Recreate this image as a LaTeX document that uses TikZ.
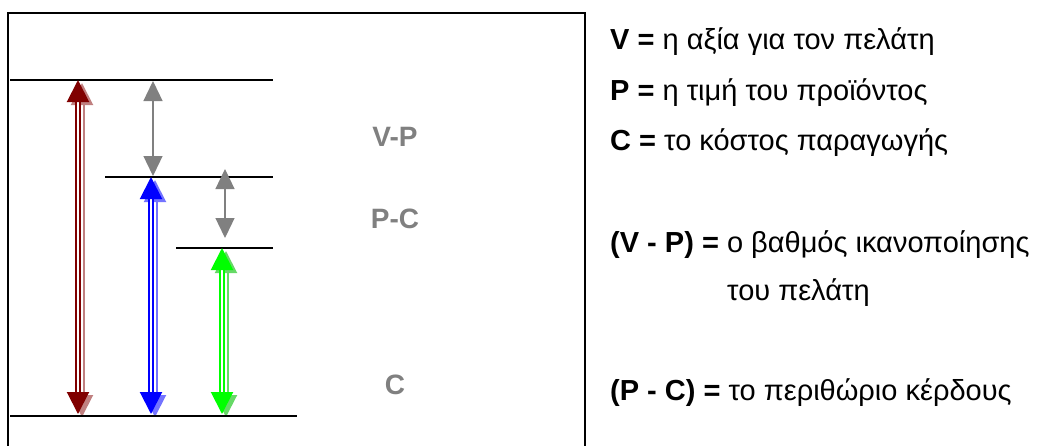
\documentclass[tikz,border=0pt]{standalone}
\usepackage{fontspec}
\setmainfont{Liberation Sans}
\usetikzlibrary{arrows.meta}
\definecolor{maroonc}{RGB}{128,0,0}
\definecolor{bluec}{RGB}{0,0,255}
\definecolor{greenc}{RGB}{0,255,0}
\definecolor{grayc}{RGB}{128,128,128}
\begin{document}
\begin{tikzpicture}[x=1pt,y=-1pt,
  hline/.style={line width=1.5pt,black},
  frame/.style={line width=2pt,black},
  bigarr/.style={double=white,double distance=1.8pt,line width=2pt,
     {Triangle[width=22pt,length=22pt]}-{Triangle[width=22pt,length=22pt]}},
  grayarr/.style={line width=1.3pt,grayc,
     {Triangle[width=19pt,length=20pt]}-{Triangle[width=19pt,length=20pt]}},
  lbl/.style={font=\fontsize{28}{32}\selectfont\bfseries,text=grayc,inner sep=0pt},
  legend/.style={font=\fontsize{29}{34}\selectfont,anchor=base west,inner sep=0pt}
]
\useasboundingbox (0,0) rectangle (1040,445);
\fill[white] (0,0) rectangle (1040,445);
% frame
\draw[frame] (8,470) -- (8,13) -- (585,13) -- (585,470);
% level lines
\coordinate (l1a) at (10,80);  \coordinate (l1b) at (273,80);
\coordinate (l2a) at (105,177); \coordinate (l2b) at (273,177);
\coordinate (l3a) at (176,248); \coordinate (l3b) at (273,248);
\coordinate (l4a) at (10,416); \coordinate (l4b) at (297,416);
% arrow ends
\coordinate (rT) at (78,80);   \coordinate (rB) at (78,414);
\coordinate (bT) at (151,177); \coordinate (bB) at (151,414);
\coordinate (gT) at (222,248); \coordinate (gB) at (222,414);
% shadows
\draw[bigarr,maroonc!50!white] ([shift={(4,3)}]rT) -- ([shift={(4,3)}]rB);
\draw[bigarr,bluec!55!white] ([shift={(4,3)}]bT) -- ([shift={(4,3)}]bB);
\draw[bigarr,greenc!75!black!60!white] ([shift={(4,3)}]gT) -- ([shift={(4,3)}]gB);
\draw[hline] (l1a) -- (l1b);
\draw[hline] (l2a) -- (l2b);
\draw[hline] (l3a) -- (l3b);
\draw[hline] (l4a) -- (l4b);
\draw[bigarr,maroonc] (rT) -- (rB);
\draw[bigarr,bluec] (bT) -- (bB);
\draw[bigarr,greenc] (gT) -- (gB);
% gray arrows
\coordinate (v1T) at (153,81); \coordinate (v1B) at (153,176);
\coordinate (v2T) at (225,169); \coordinate (v2B) at (225,238);
\draw[grayarr] (v1T) -- (v1B);
\draw[grayarr] (v2T) -- (v2B);
% labels
\node[lbl] (vp) at (395,137) {V-P};
\node[lbl] (pc) at (395,219) {P-C};
\node[lbl] (c) at (395,385) {C};
% legend
\node[legend] (t1) at (610,49) {\textbf{V =} η αξία για τον πελάτη};
\node[legend] (t2) at (610,100) {\textbf{P =} η τιμή του προϊόντος};
\node[legend] (t3) at (610,150) {\textbf{C =} το κόστος παραγωγής};
\node[legend] (t4) at (610,252) {\textbf{(V - P) =} ο βαθμός ικανοποίησης};
\node[legend] (t5) at (727,300) {του πελάτη};
\node[legend] (t6) at (610,400) {\textbf{(P - C) =} το περιθώριο κέρδους};
\end{tikzpicture}
\end{document}
